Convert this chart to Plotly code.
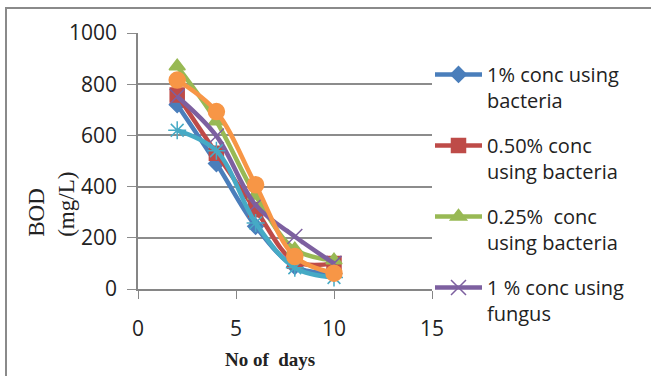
import plotly.graph_objects as go

days = [2, 4, 6, 8, 10]

bact_1 = [720, 490, 245, 88, 60]
bact_050 = [758, 530, 310, 108, 100]
bact_025 = [870, 655, 365, 155, 112]
fungus_1 = [752, 598, 328, 205, 100]
series_5 = [620, 540, 258, 83, 45]
series_6 = [816, 693, 407, 127, 62]

names = [
    "1% conc using<br>bacteria",
    "0.50% conc<br>using bacteria",
    "0.25%&nbsp; conc<br>using bacteria",
    "1 % conc using<br>fungus",
    "Series 5",
    "Series 6",
]
values = [bact_1, bact_050, bact_025, fungus_1, series_5, series_6]
colors = ["#4A7EBB", "#BE4B48", "#98B954", "#7D60A0", "#46AAC5", "#F79646"]
symbols = ["diamond", "square", "triangle-up", "x-thin-open", "asterisk-open", "circle"]
sizes = [12, 14, 14, 15, 15, 16]
legend_flags = [True, True, True, True, False, False]

fig = go.Figure()
for i in range(6):
    fig.add_trace(go.Scatter(
        x=days, y=values[i], name=names[i], mode="lines+markers",
        line=dict(color=colors[i], width=4.5, shape="spline"),
        marker=dict(symbol=symbols[i], size=sizes[i], color=colors[i],
                    line=dict(color=colors[i], width=1.5)),
        showlegend=legend_flags[i], legendgroup=f"g{i}",
    ))

W, H = 651, 376
L, R = 138, 432
T, B = 33, 289.3
SANS = "Open Sans"

fig.update_layout(
    width=W, height=H,
    margin=dict(l=L, r=W - R, t=T, b=H - B),
    paper_bgcolor="white", plot_bgcolor="white",
    font=dict(family=SANS, size=20, color="#222222"),
    showlegend=True,
    legend=dict(x=(430 - L) / (R - L), xanchor="left", y=(B - 55) / (B - T), yanchor="top",
                font=dict(family=SANS, size=20, color="#222222"),
                valign="top", tracegroupgap=16, bgcolor="rgba(0,0,0,0)",
                itemwidth=47, maxheight=2000),
    xaxis=dict(range=[0, 15], tickvals=[0, 5, 10, 15], showgrid=False,
               showline=True, linecolor="#868686", linewidth=1.5,
               ticks="outside", ticklen=8, tickcolor="#868686",
               ticklabelstandoff=12,
               tickfont=dict(family=SANS, size=21, color="#222222"),
               zeroline=False, fixedrange=True),
    yaxis=dict(range=[0, 1000], tickvals=[0, 200, 400, 600, 800, 1000],
               showgrid=True, gridcolor="#8C8C8C", gridwidth=1.5,
               showline=True, linecolor="#868686", linewidth=1.5,
               ticks="outside", ticklen=9, tickcolor="#8C8C8C",
               ticklabelstandoff=6,
               tickfont=dict(family=SANS, size=21, color="#222222"),
               zeroline=False, fixedrange=True),
    annotations=[
        dict(text="BOD<br>(mg/L)", textangle=-90, align="left", showarrow=False,
             xref="paper", yref="paper", x=(52 - L) / (R - L), y=(B - 205) / (B - T),
             xanchor="center", yanchor="middle",
             font=dict(family="Liberation Serif", size=23, color="#222222")),
        dict(text="<b>No of&nbsp; days</b>", showarrow=False,
             xref="paper", yref="paper", x=(270 - L) / (R - L), y=(B - 360) / (B - T),
             xanchor="center", yanchor="middle",
             font=dict(family="Liberation Serif", size=19, color="#222222")),
    ],
    shapes=[
        dict(type="rect", xref="paper", yref="paper",
             x0=(6 - L) / (R - L), x1=(700 - L) / (R - L),
             y0=(B - 420) / (B - T), y1=(B - 8) / (B - T),
             line=dict(color="#8A8A8A", width=2), fillcolor="rgba(0,0,0,0)", layer="below"),
    ],
)

fig.write_html("out.html")
